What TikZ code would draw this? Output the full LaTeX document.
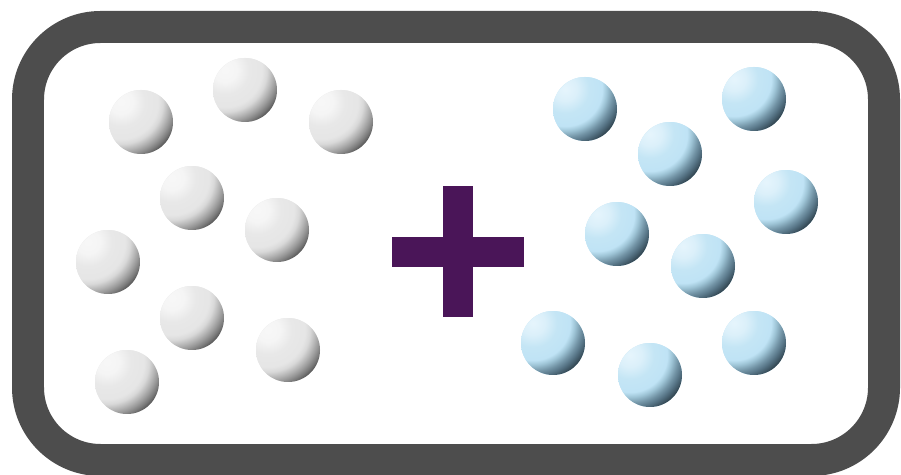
\documentclass[tikz,border=0pt]{standalone}

\definecolor{marcogris}{RGB}{77,77,77}
\definecolor{masmorado}{RGB}{74,21,88}
\definecolor{grisbase}{rgb}{0.90,0.90,0.90}
\definecolor{azulbase}{rgb}{0.75,0.89,0.96}

% luz arriba a la izquierda, sombra abajo a la derecha
\pgfdeclareradialshading{luzgris}{\pgfpoint{0bp}{0bp}}{%
  rgb(0bp)=(0.97,0.97,0.97);
  rgb(4.7bp)=(0.96,0.96,0.96);
  rgb(9.4bp)=(0.91,0.91,0.91);
  rgb(14.5bp)=(0.90,0.90,0.90);
  rgb(16.4bp)=(0.85,0.85,0.85);
  rgb(18.8bp)=(0.70,0.70,0.70);
  rgb(20.3bp)=(0.60,0.60,0.60);
  rgb(21.9bp)=(0.48,0.48,0.48);
  rgb(23.4bp)=(0.34,0.34,0.34);
  rgb(50bp)=(0.32,0.32,0.32)}

\pgfdeclareradialshading{luzazul}{\pgfpoint{0bp}{0bp}}{%
  rgb(0bp)=(0.90,0.96,0.99);
  rgb(4.7bp)=(0.86,0.94,0.98);
  rgb(9.4bp)=(0.77,0.90,0.96);
  rgb(14.5bp)=(0.75,0.89,0.96);
  rgb(16.4bp)=(0.62,0.77,0.84);
  rgb(18.8bp)=(0.45,0.58,0.65);
  rgb(20.3bp)=(0.36,0.48,0.55);
  rgb(21.9bp)=(0.27,0.37,0.43);
  rgb(23.4bp)=(0.19,0.26,0.30);
  rgb(50bp)=(0.18,0.25,0.29)}

\begin{document}
\begin{tikzpicture}[
        x=0.02cm, y=-0.02cm,
        bola/.style 2 args={
            circle,
            inner sep=0pt,
            minimum size=1.28cm,
            fill=#2,
            path picture={
                \shade[shading=#1]
                    ([shift={(-0.4cm,0.4cm)}]path picture bounding box.center)
                    circle[radius=1.28cm];
            }
        },
        gris/.style={bola={luzgris}{grisbase}},
        azul/.style={bola={luzazul}{azulbase}},
        marco/.style={
            draw=marcogris,
            line width=0.64cm,
            rounded corners=1.45cm
        }
    ]
        \useasboundingbox (0,0) rectangle (901,475);
        \fill[white] (0,0) rectangle (901,475);

        \draw[marco] (28,27) rectangle (884,460);

        % lado izquierdo
        \node[gris] (g1) at (141,122) {};
        \node[gris] (g2) at (245,90) {};
        \node[gris] (g3) at (341,122) {};
        \node[gris] (g4) at (192,198) {};
        \node[gris] (g5) at (277,230) {};
        \node[gris] (g6) at (108,262) {};
        \node[gris] (g7) at (192,318) {};
        \node[gris] (g8) at (288,350) {};
        \node[gris] (g9) at (127,382) {};

        % signo
        \fill[masmorado] (443,186) rectangle (473,317);
        \fill[masmorado] (392,237) rectangle (524,267);

        % lado derecho
        \node[azul] (b1) at (585,109) {};
        \node[azul] (b2) at (754,99) {};
        \node[azul] (b3) at (670,154) {};
        \node[azul] (b4) at (786,202) {};
        \node[azul] (b5) at (617,234) {};
        \node[azul] (b6) at (703,266) {};
        \node[azul] (b7) at (553,343) {};
        \node[azul] (b8) at (754,343) {};
        \node[azul] (b9) at (650,375) {};
    \end{tikzpicture}
\end{document}
